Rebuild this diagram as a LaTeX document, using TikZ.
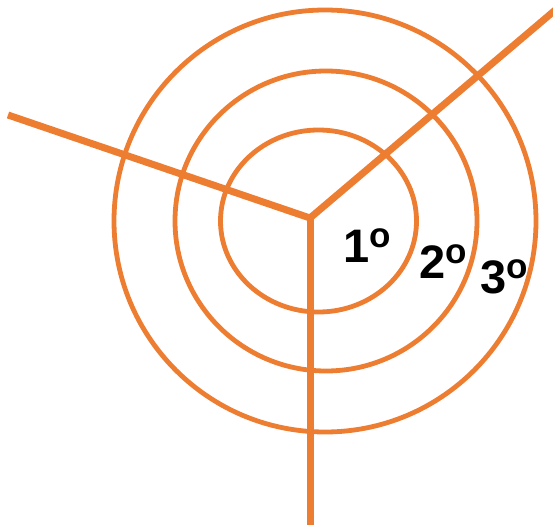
\documentclass[tikz,border=0pt]{standalone}
\usepackage{fontspec}
\newfontfamily\ringfont{Liberation Sans}
\usetikzlibrary{calc}
\definecolor{ringorange}{HTML}{ED7D31}
\newcommand{\ordo}{\raisebox{15pt}{\fontsize{35}{35}\selectfont o}}

\tikzset{
    ring/.style={draw=ringorange, line width=4.8pt},
    spoke/.style={draw=ringorange, line width=7pt},
    ringlabel/.style={anchor=base, inner sep=0pt,
        font=\ringfont\bfseries\fontsize{47}{47}\selectfont}
}

\begin{document}
\begin{tikzpicture}[x=1pt,y=-1pt,>=stealth]
            \useasboundingbox (0,0) rectangle (553,524);

            % rings
            \draw[ring] (318.5,221) ellipse [x radius=98, y radius=91];
            \draw[ring] (326,221) ellipse [x radius=151, y radius=150];
            \draw[ring] (325,221) ellipse [x radius=211, y radius=211];

            % spokes
            \coordinate (hub)   at (310,218);
            \coordinate (west)  at (8,115);
            \coordinate (ne)    at (560,6);
            \coordinate (south) at (310,530);

            \path[spoke, line join=miter]
            (west) -- (hub) -- (ne);
            \path[spoke]
            (hub)  -- (south);

            \node[ringlabel] (l1) at (367,262) {1\ordo};
            \node[ringlabel] (l2) at (443,278) {2\ordo};
            \node[ringlabel] (l3) at (504,293) {3\ordo};
        \end{tikzpicture}
\end{document}
